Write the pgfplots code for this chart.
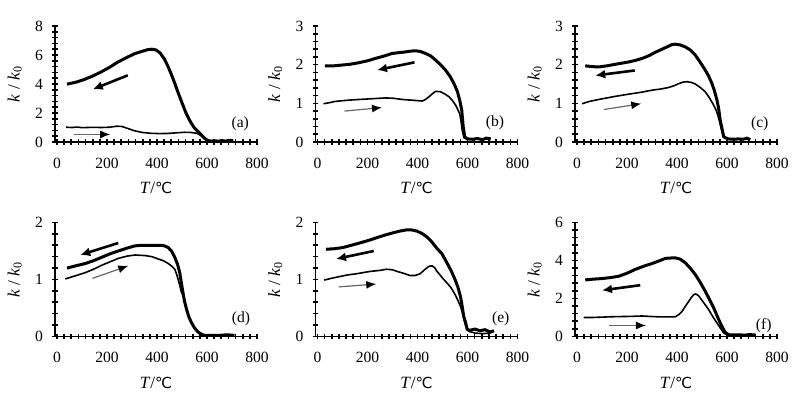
\documentclass[border=0pt]{standalone}
\usepackage{fontspec}
\setmainfont{Liberation Serif}
\newfontfamily\symfont{DejaVu Sans}
\usepackage{pgfplots}
\pgfplotsset{compat=1.18}
\usetikzlibrary{arrows.meta}

\tikzset{tag/.style={font=\fontsize{7.8}{8}\selectfont},
  ylab/.style={font=\fontsize{8.6}{9}\selectfont, rotate=89.99, anchor=center}}
\pgfplotsset{
 panel/.style={
  scale only axis, width=101pt, height=58pt,
  xmin=-8, xmax=800, ymin=0,
  axis lines=left,
  axis line style={-, line width=0.9pt},
  xtick={0,200,400,600,800},
  minor tick num=0,
  major tick length=0pt,
  tick label style={font=\fontsize{7.8}{8}\selectfont},
  /pgf/number format/assume math mode=true,
  xticklabel style={anchor=center, yshift=-10.5pt},
  yticklabel style={anchor=center, xshift=-8pt},
  xlabel={\textit{T}/{\symfont\fontsize{7.6}{8}\selectfont ℃}},
  label style={font=\fontsize{8.6}{9}\selectfont},
  x label style={at={(axis description cs:0.5,0)}, anchor=center, yshift=-23pt},
  clip=false,
 },
 cool/.style={black, line width=1.5pt, line join=round},
 heat/.style={black, line width=0.8pt, line join=round},
 carrow/.style={black, line width=1.3pt, -{Latex[length=5pt,width=4.5pt]}},
 harrow/.style={black!60, line width=0.6pt, -{Latex[length=5pt,width=4pt,fill=black,color=black]}},
 tk/.style={only marks, black, mark size=1.4pt, mark options={line width=0.8pt}},
}
\newcommand{\klabel}{\node[ylab] at (axis description cs:-0.2,0.5) {\textit{k} / \textit{k}\textsubscript{0}};}
\newcommand{\xticks}{\addplot[tk, mark=|] coordinates {(0,0)(28.571,0)(57.143,0)(85.714,0)(114.286,0)(142.857,0)(171.429,0)(200,0)(228.571,0)(257.143,0)(285.714,0)(314.286,0)(342.857,0)(371.429,0)(400,0)(428.571,0)(457.143,0)(485.714,0)(514.286,0)(542.857,0)(571.429,0)(600,0)(628.571,0)(657.143,0)(685.714,0)(714.286,0)(742.857,0)(771.429,0)(800,0)};}

\begin{document}
\begin{tikzpicture}
\useasboundingbox (0,0) rectangle (400pt,198.5pt);

% (a)
\begin{axis}[panel, at={(27.5pt,127.5pt)}, anchor=south west, ymax=8, ytick={0,2,4,6,8}]
\xticks
\addplot[tk, mark=-] coordinates {(-8,0)(-8,0.4)(-8,0.8)(-8,1.2)(-8,1.6)(-8,2)(-8,2.4)(-8,2.8)(-8,3.2)(-8,3.6)(-8,4)(-8,4.4)(-8,4.8)(-8,5.2)(-8,5.6)(-8,6)(-8,6.4)(-8,6.8)(-8,7.2)(-8,7.6)(-8,8)};
\addplot[cool] coordinates {(705,0.08)(690,0.12)(675,0.06)(660,0.10)(645,0.05)(630,0.09)(615,0.06)(603,0.11)(590,0.25)(576,0.52)(562,0.75)(549,0.98)(532,1.45)(516,2.0)(500,2.7)(483,3.47)(470,4.1)(456,4.72)(443,5.25)(429,5.74)(412,6.15)(396,6.35)(380,6.40)(363,6.37)(340,6.25)(309,6.08)(276,5.80)(243,5.51)(210,5.15)(176,4.83)(143,4.55)(109,4.31)(75,4.12)(40,3.99)};
\addplot[heat] coordinates {(36,1.02)(60,1.0)(80,1.03)(100,0.99)(140,1.01)(180,1.0)(210,1.02)(240,1.09)(260,1.07)(285,0.92)(309,0.78)(340,0.66)(376,0.60)(410,0.58)(443,0.59)(475,0.63)(509,0.67)(535,0.66)(560,0.6)(575,0.45)(589,0.25)(603,0.07)(620,0.05)};
\addplot[carrow] coordinates {(283,4.60)(143,3.63)};
\addplot[harrow] coordinates {(67,0.52)(213,0.52)};
\node[tag] at (axis cs:733,1.27) {(a)};
\klabel
\end{axis}

% (b)
\begin{axis}[panel, at={(157.75pt,127.5pt)}, anchor=south west, ymax=3, ytick={0,1,2,3}]
\xticks
\addplot[tk, mark=-] coordinates {(-8,0)(-8,0.2)(-8,0.4)(-8,0.6)(-8,0.8)(-8,1)(-8,1.2)(-8,1.4)(-8,1.6)(-8,1.8)(-8,2)(-8,2.2)(-8,2.4)(-8,2.6)(-8,2.8)(-8,3)};
\addplot[cool] coordinates {(693,0.08)(675,0.1)(660,0.06)(640,0.09)(620,0.07)(600,0.08)(589,0.13)(583,0.39)(577,0.82)(570,1.05)(560,1.3)(546,1.51)(530,1.7)(512,1.86)(492,2.0)(472,2.12)(452,2.23)(432,2.29)(412,2.34)(392,2.36)(372,2.35)(352,2.33)(325,2.31)(298,2.29)(265,2.22)(231,2.16)(200,2.10)(165,2.05)(130,2.01)(98,1.99)(65,1.97)(30,1.97)};
\addplot[heat] coordinates {(24,0.99)(50,1.02)(71,1.05)(120,1.08)(165,1.10)(220,1.12)(272,1.14)(305,1.13)(339,1.10)(380,1.08)(419,1.06)(432,1.10)(446,1.17)(460,1.25)(472,1.31)(492,1.30)(510,1.24)(526,1.17)(540,1.07)(553,0.95)(569,0.73)(575,0.5)(579,0.30)(586,0.11)(600,0.07)};
\addplot[carrow] coordinates {(388,2.06)(238,1.86)};
\addplot[harrow] coordinates {(108,0.80)(258,0.89)};
\node[tag] at (axis cs:710,0.49) {(b)};
\klabel
\end{axis}

% (c)
\begin{axis}[panel, at={(287.5pt,127.5pt)}, anchor=south west, ymax=3, ytick={0,1,2,3}]
\xticks
\addplot[tk, mark=-] coordinates {(-8,0)(-8,0.2)(-8,0.4)(-8,0.6)(-8,0.8)(-8,1)(-8,1.2)(-8,1.4)(-8,1.6)(-8,1.8)(-8,2)(-8,2.2)(-8,2.4)(-8,2.6)(-8,2.8)(-8,3)};
\addplot[cool] coordinates {(693,0.06)(680,0.1)(665,0.07)(645,0.08)(625,0.07)(605,0.08)(587,0.13)(580,0.35)(573,0.56)(567,0.85)(560,1.08)(550,1.32)(540,1.51)(527,1.7)(513,1.86)(493,2.06)(473,2.25)(453,2.38)(433,2.46)(413,2.51)(393,2.53)(380,2.52)(367,2.48)(340,2.40)(313,2.32)(287,2.23)(260,2.16)(233,2.11)(207,2.07)(180,2.04)(153,2.01)(120,1.97)(87,1.94)(60,1.95)(33,1.97)};
\addplot[heat] coordinates {(20,0.99)(50,1.05)(87,1.10)(120,1.14)(153,1.18)(190,1.22)(220,1.25)(260,1.29)(300,1.34)(335,1.37)(367,1.41)(390,1.46)(407,1.51)(425,1.55)(440,1.56)(458,1.54)(473,1.50)(493,1.41)(513,1.30)(530,1.14)(547,0.95)(558,0.80)(567,0.61)(575,0.40)(580,0.26)(587,0.13)};
\addplot[carrow] coordinates {(231,1.85)(73,1.72)};
\addplot[harrow] coordinates {(107,0.84)(257,0.99)};
\node[tag] at (axis cs:731,0.48) {(c)};
\klabel
\end{axis}

% (d)
\begin{axis}[panel, at={(27.5pt,30.25pt)}, anchor=south west, height=57pt, ymax=2, ytick={0,1,2}]
\xticks
\addplot[tk, mark=-] coordinates {(-8,0)(-8,0.2)(-8,0.4)(-8,0.6)(-8,0.8)(-8,1)(-8,1.2)(-8,1.4)(-8,1.6)(-8,1.8)(-8,2)};
\addplot[cool] coordinates {(710,0.02)(680,0.03)(650,0.02)(620,0.02)(591,0.02)(577,0.04)(564,0.08)(550,0.15)(537,0.25)(527,0.35)(518,0.48)(510,0.62)(504,0.77)(497,0.95)(491,1.12)(482,1.27)(471,1.39)(458,1.50)(445,1.56)(430,1.59)(418,1.60)(380,1.60)(338,1.60)(312,1.59)(280,1.55)(245,1.50)(212,1.45)(179,1.39)(146,1.33)(113,1.28)(75,1.24)(40,1.20)};
\addplot[heat] coordinates {(33,1.01)(70,1.06)(113,1.12)(146,1.18)(179,1.25)(212,1.31)(245,1.37)(280,1.41)(312,1.43)(352,1.42)(380,1.40)(405,1.36)(425,1.33)(445,1.28)(460,1.23)(471,1.18)(478,1.10)(484,1.01)(491,0.90)(498,0.77)(505,0.72)(515,0.52)(530,0.32)(550,0.15)(570,0.05)(590,0.02)};
\addplot[carrow] coordinates {(245,1.64)(93,1.43)};
\addplot[harrow] coordinates {(142,1.02)(285,1.24)};
\node[tag] at (axis cs:736,0.32) {(d)};
\klabel
\end{axis}

% (e)
\begin{axis}[panel, at={(157.75pt,30.25pt)}, anchor=south west, height=57pt, ymax=2, ytick={0,1,2}]
\xticks
\addplot[tk, mark=-] coordinates {(-8,0)(-8,0.2)(-8,0.4)(-8,0.6)(-8,0.8)(-8,1)(-8,1.2)(-8,1.4)(-8,1.6)(-8,1.8)(-8,2)};
\addplot[cool] coordinates {(706,0.1)(690,0.08)(670,0.12)(650,0.1)(630,0.13)(610,0.11)(599,0.12)(592,0.25)(585,0.35)(578,0.55)(572,0.70)(562,0.86)(551,0.99)(535,1.15)(518,1.29)(498,1.45)(477,1.55)(457,1.66)(437,1.75)(417,1.81)(397,1.85)(376,1.87)(356,1.87)(330,1.85)(303,1.82)(270,1.78)(235,1.73)(200,1.68)(168,1.64)(135,1.60)(101,1.56)(68,1.54)(34,1.53)};
\addplot[heat] coordinates {(27,0.99)(55,1.02)(87,1.05)(120,1.08)(155,1.10)(208,1.14)(250,1.16)(276,1.18)(300,1.17)(320,1.14)(343,1.11)(370,1.07)(390,1.07)(410,1.10)(428,1.17)(445,1.23)(458,1.24)(468,1.21)(477,1.15)(490,1.08)(505,1.00)(518,0.94)(535,0.85)(551,0.73)(562,0.63)(572,0.53)(582,0.38)(592,0.20)(605,0.09)(630,0.06)(660,0.05)(690,0.06)(706,0.10)};
\addplot[carrow] coordinates {(225,1.50)(74,1.36)};
\addplot[harrow] coordinates {(85,0.87)(235,0.92)};
\node[tag] at (axis cs:733,0.32) {(e)};
\klabel
\end{axis}

% (f)
\begin{axis}[panel, at={(287.5pt,30.25pt)}, anchor=south west, height=57pt, ymax=6, ytick={0,2,4,6}]
\xticks
\addplot[tk, mark=-] coordinates {(-8,0)(-8,0.4)(-8,0.8)(-8,1.2)(-8,1.6)(-8,2)(-8,2.4)(-8,2.8)(-8,3.2)(-8,3.6)(-8,4)(-8,4.4)(-8,4.8)(-8,5.2)(-8,5.6)(-8,6)};
\addplot[cool] coordinates {(713,0.08)(690,0.1)(670,0.07)(650,0.09)(630,0.08)(607,0.09)(593,0.21)(583,0.45)(573,0.71)(560,1.1)(547,1.50)(530,1.95)(513,2.38)(493,2.85)(473,3.26)(453,3.60)(433,3.88)(413,4.07)(393,4.14)(373,4.13)(353,4.11)(327,3.97)(300,3.84)(267,3.70)(233,3.53)(200,3.33)(167,3.17)(133,3.10)(100,3.05)(67,3.02)(33,2.98)};
\addplot[heat] coordinates {(27,1.0)(60,1.0)(100,1.02)(140,1.04)(180,1.05)(220,1.06)(260,1.08)(300,1.05)(340,1.03)(370,1.03)(393,1.04)(407,1.15)(420,1.32)(433,1.58)(447,1.85)(457,2.05)(467,2.20)(475,2.24)(485,2.16)(493,2.03)(510,1.72)(527,1.41)(543,1.05)(560,0.71)(573,0.45)(587,0.18)(607,0.05)};
\addplot[carrow] coordinates {(253,2.70)(100,2.43)};
\addplot[harrow] coordinates {(127,0.58)(276,0.58)};
\node[tag] at (axis cs:747,0.58) {(f)};
\klabel
\end{axis}
\end{tikzpicture}
\end{document}
